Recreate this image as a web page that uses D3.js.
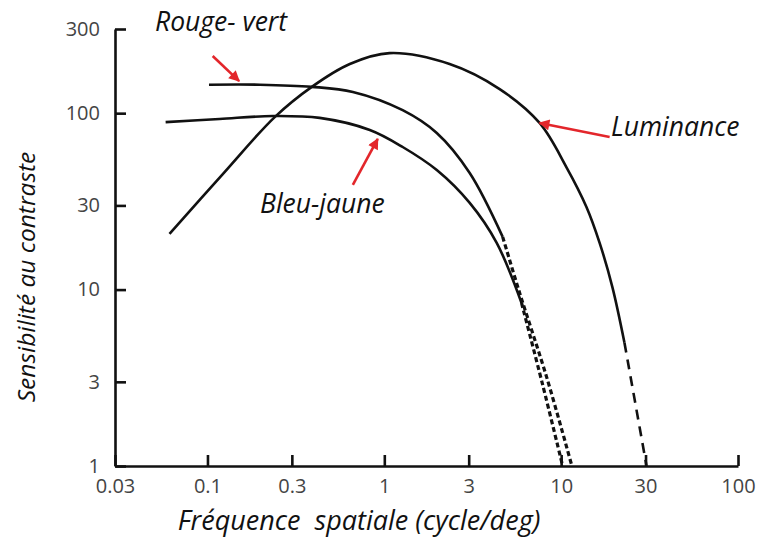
<!DOCTYPE html>
<html>
<head>
<meta charset="utf-8">
<script src="https://cdn.jsdelivr.net/npm/d3@7"></script>
<style>
  body { margin: 0; background: #fff; }
  svg { display: block; font-family: "Open Sans", "Noto Sans", sans-serif; }
</style>
</head>
<body>
<div id="chart"></div>
<script>
// tick values (log axes)
var xTicks = [0.03, 0.1, 0.3, 1, 3, 10, 30, 100];
var yTicks = [1, 3, 10, 30, 100, 300];

// curves: [frequency (cycle/deg), sensitivity]
var luminance = [[0.061, 20.7], [0.121, 44.7], [0.24, 95], [0.389, 141], [0.638, 190], [1.07, 219],
  [2.34, 190], [4.49, 137], [7.55, 88], [10.7, 49.5], [13.9, 29.4], [16.5, 18.4], [19.5, 10.3], [22.8, 5.0]];
var luminanceExt = [[22.8, 5.0], [30.4, 1]];

var rougeVert = [[0.102, 145], [0.198, 145], [0.389, 141], [0.664, 132], [1.27, 104],
  [1.98, 77.2], [3.04, 45.8], [4.67, 19.9]];
var rougeVertExt = [[4.67, 19.9], [5.82, 9.6], [8.27, 3.2], [11.5, 1]];

var bleuJaune = [[0.058, 89], [0.117, 92.7], [0.234, 96.4], [0.431, 94], [0.828, 80.3],
  [1.27, 64.3], [1.98, 47.6], [3.04, 31], [4.32, 18.4], [5.97, 8.4]];
var bleuJauneExt = [[5.97, 8.4], [7.85, 2.9], [10.2, 1]];

// annotations: label text and arrow (from -> to) in data units
var labels = ["Rouge- vert", "Bleu-jaune", "Luminance"];
var arrowFrom = [[0.107, 211], [0.664, 39.2], [18.8, 73.3]];
var arrowTo = [[0.151, 152], [0.918, 71.4], [7.55, 88]];

var svgWidth = 762;
var svgHeight = 544;

var svg = d3.select("#chart")
  .append("svg")
  .attr("width", svgWidth)
  .attr("height", svgHeight);

var x = d3.scaleLog().domain([0.03, 100]).range([115, 738]);
var y = d3.scaleLog().domain([1, 300]).range([466, 29]);

var bottomAxis = d3.axisBottom(x)
  .tickValues(xTicks)
  .tickFormat(d3.format(""))
  .tickSizeInner(-11)
  .tickSizeOuter(0)
  .tickPadding(13);

var leftAxis = d3.axisLeft(y)
  .tickValues(yTicks)
  .tickFormat(d3.format(""))
  .tickSizeInner(-11)
  .tickSizeOuter(0)
  .tickPadding(15);

var gx = svg.append("g")
  .attr("transform", "translate(0," + y(1) + ")")
  .call(bottomAxis);

var gy = svg.append("g")
  .attr("transform", "translate(" + x(0.03) + ",0)")
  .call(leftAxis);

[gx, gy].forEach(function(g) {
  g.select(".domain").attr("stroke", "#111").attr("stroke-width", 2.6);
  g.selectAll(".tick line").attr("stroke", "#111").attr("stroke-width", 2.6);
  g.selectAll(".tick text")
    .attr("fill", "#444")
    .style("font-size", "20px")
    .style("font-family", "'Open Sans', sans-serif");
});

var line = d3.line()
  .x(function(d) { return x(d[0]); })
  .y(function(d) { return y(d[1]); })
  .curve(d3.curveCatmullRom.alpha(0.5));

function drawCurve(data, dash, width) {
  svg.append("path")
    .datum(data)
    .attr("d", line)
    .attr("fill", "none")
    .attr("stroke", "#111")
    .attr("stroke-width", width)
    .attr("stroke-linecap", "butt")
    .attr("stroke-dasharray", dash);
}

drawCurve(luminance, null, 2.6);
drawCurve(luminanceExt, "10,7", 2.6);
drawCurve(rougeVert, null, 2.6);
drawCurve(rougeVertExt, "5,3", 3.2);
drawCurve(bleuJaune, null, 2.6);
drawCurve(bleuJauneExt, "5,3", 3.2);

// red arrows
svg.append("defs").append("marker")
  .attr("id", "head")
  .attr("viewBox", "0 0 10 10")
  .attr("refX", 9)
  .attr("refY", 5)
  .attr("markerWidth", 4.6)
  .attr("markerHeight", 4.2)
  .attr("markerUnits", "strokeWidth")
  .attr("orient", "auto")
  .append("path")
  .attr("d", "M0,0L10,5L0,10Z")
  .attr("fill", "#e3262b");

svg.selectAll(".arrow")
  .data(arrowFrom)
  .enter()
  .append("line")
  .attr("class", "arrow")
  .attr("x1", function(d) { return x(d[0]); })
  .attr("y1", function(d) { return y(d[1]); })
  .attr("x2", function(d, i) { return x(arrowTo[i][0]); })
  .attr("y2", function(d, i) { return y(arrowTo[i][1]); })
  .attr("stroke", "#e3262b")
  .attr("stroke-width", 2.6)
  .attr("marker-end", "url(#head)");

// curve labels
var labelPos = [[155, 31], [260, 213], [611, 136]];
svg.selectAll(".lbl")
  .data(labels)
  .enter()
  .append("text")
  .attr("class", "lbl")
  .attr("x", function(d, i) { return labelPos[i][0]; })
  .attr("y", function(d, i) { return labelPos[i][1]; })
  .style("font-style", "italic")
  .style("font-size", "26.5px")
  .attr("fill", "#111")
  .text(function(d) { return d; });

// axis titles
svg.append("text")
  .attr("x", 359)
  .attr("y", 530)
  .attr("text-anchor", "middle")
  .style("font-style", "italic")
  .style("font-size", "27px")
  .style("white-space", "pre")
  .attr("fill", "#111")
  .text("Fréquence  spatiale (cycle/deg)");

svg.append("text")
  .attr("transform", "translate(35,277) rotate(-90)")
  .attr("text-anchor", "middle")
  .style("font-style", "italic")
  .style("font-size", "24.5px")
  .attr("fill", "#111")
  .text("Sensibilité au contraste");
</script>
</body>
</html>
